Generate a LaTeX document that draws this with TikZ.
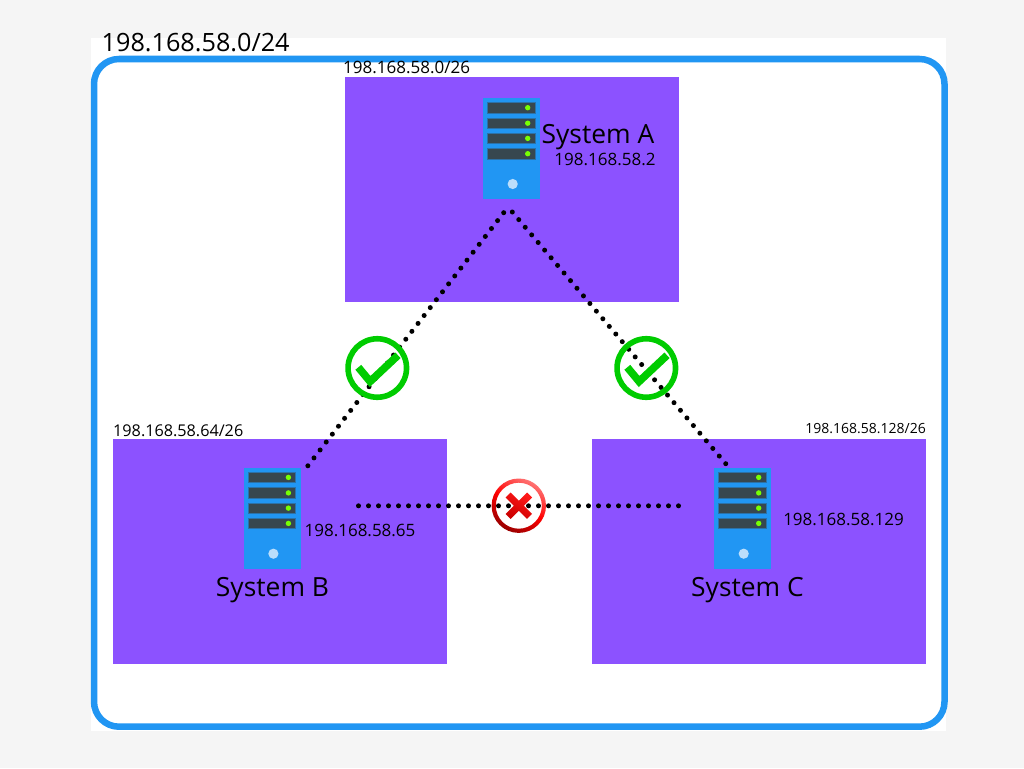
\documentclass[tikz,border=0pt]{standalone}
\usepackage{fontspec}
\setmainfont{Open Sans}
\definecolor{pagebg}{HTML}{F5F5F5}
\definecolor{zone}{HTML}{8C52FF}
\definecolor{netblue}{HTML}{2196F3}
\definecolor{slot}{HTML}{37474F}
\definecolor{led}{HTML}{76FF03}
\definecolor{disk}{HTML}{BBDEFB}
\definecolor{okgreen}{HTML}{00CC00}
\tikzset{
  zonebox/.style={fill=zone,draw=none,anchor=north west,minimum width=334pt,minimum height=225pt,inner sep=0pt,outer sep=0pt},
  bigtxt/.style={font=\fontsize{26.4}{30}\selectfont,anchor=base,inner sep=0pt},
  smalltxt/.style={font=\fontsize{17}{20}\selectfont,anchor=base,inner sep=0pt},
  nettxt/.style={font=\fontsize{25.2}{30}\selectfont,anchor=base west,inner sep=0pt},
  link/.style={line width=5pt,line cap=round,dash pattern=on 0pt off 10pt},
  towerbox/.style={fill=netblue,draw=none,anchor=north west,minimum width=57pt,minimum height=101pt,inner sep=0pt,outer sep=0pt},
  ringicon/.style={circle,minimum size=58.5pt,inner sep=0pt,draw=okgreen,line width=5.6pt},
}
\newcommand{\servericon}[3]{% name, x, y of the top-left corner
  \node[towerbox] (#1) at (#2,#3) {};
  \begin{scope}[shift={(#2,#3)}]
    \foreach \sy in {4.5,20,35.2,50.5}{
      \fill[slot,draw=netblue!55!slot,line width=.6pt] (4.7,\sy) rectangle (52,\sy+10.4);
      \fill[led] (44.7,\sy+5.2) circle (2.7);
    }
    \fill[disk] (29.7,86) circle (5.1);
  \end{scope}
}
\newcommand{\checkmarkicon}[3]{% name, x, y of the centre
  \node[ringicon] (#1) at (#2,#3) {};
  \draw[okgreen,line width=7.6pt,line join=miter] (#2-19,#3-0.7) -- (#2-7.2,#3+13.5) -- (#2+20.7,#3-12.7);
}
\begin{document}
\begin{tikzpicture}[x=1pt,y=-1pt]
\useasboundingbox (0,0) rectangle (1024,768);
\fill[pagebg] (0,0) rectangle (1024,768);
\fill[white] (91,38) rectangle (946,731);
\node[draw=netblue,line width=6.5pt,rounded corners=25pt,anchor=north west,minimum width=850.5pt,minimum height=667.7pt,inner sep=0pt,outer sep=0pt] (net) at (94,59) {};
\node[nettxt] (nettext) at (101.5,52) {198.168.58.0/24};

\node[zonebox] (zoneA) at (345,77) {};
\node[zonebox] (zoneB) at (113,439) {};
\node[zonebox] (zoneC) at (592,439) {};

\node[nettxt,font=\fontsize{17}{20}\selectfont] (cidrA) at (343,73) {198.168.58.0/26};
\node[nettxt,font=\fontsize{16.2}{20}\selectfont] (cidrB) at (113,436) {198.168.58.64/26};
\node[nettxt,font=\fontsize{14}{18}\selectfont,anchor=base east] (cidrC) at (926,433) {198.168.58.128/26};

\servericon{srvA}{483}{98}
\servericon{srvB}{243.7}{467.7}
\servericon{srvC}{714}{467.7}

\node[bigtxt] (nameA) at (598,143) {System A};
\node[smalltxt] (ipA) at (605,165) {198.168.58.2};
\node[bigtxt] (nameB) at (272.5,596) {System B};
\node[smalltxt] (ipB) at (360,536) {198.168.58.65};
\node[bigtxt] (nameC) at (747.5,596) {System C};
\node[smalltxt] (ipC) at (843.5,525) {198.168.58.129};

\coordinate (apexL) at (503.7,212.7);
\coordinate (apexR) at (512.3,212);
\coordinate (endB) at (307.7,466);
\coordinate (endC) at (726,464);
\coordinate (crossL) at (358.5,505.8);
\coordinate (crossR) at (679,505.8);
\draw[link] (apexL) -- (endB);
\draw[link] (apexR) -- (endC);
\draw[link] (crossL) -- (crossR);

\checkmarkicon{okB}{377.3}{368}
\checkmarkicon{okC}{646.3}{368}

\node[circle,minimum size=50pt,inner sep=0pt] (noBC) at (518.8,505.7) {};
\shade[even odd rule,top color=red!55!white,bottom color=red!60!black,middle color=red,shading angle=-30]
  (noBC.center) circle (27.2) circle (23);
\begin{scope}[shift={(noBC.center)}]
\shade[top color=red!90!white,middle color=red,bottom color=red!80!black,shading angle=-30]
  (-13.2,-8.2) -- (-8.2,-13.2) -- (0,-5) -- (8.2,-13.2) -- (13.2,-8.2) -- (5,0) -- (13.2,8.2) -- (8.2,13.2) -- (0,5) -- (-8.2,13.2) -- (-13.2,8.2) -- (-5,0) -- cycle;
\end{scope}
\end{tikzpicture}
\end{document}
